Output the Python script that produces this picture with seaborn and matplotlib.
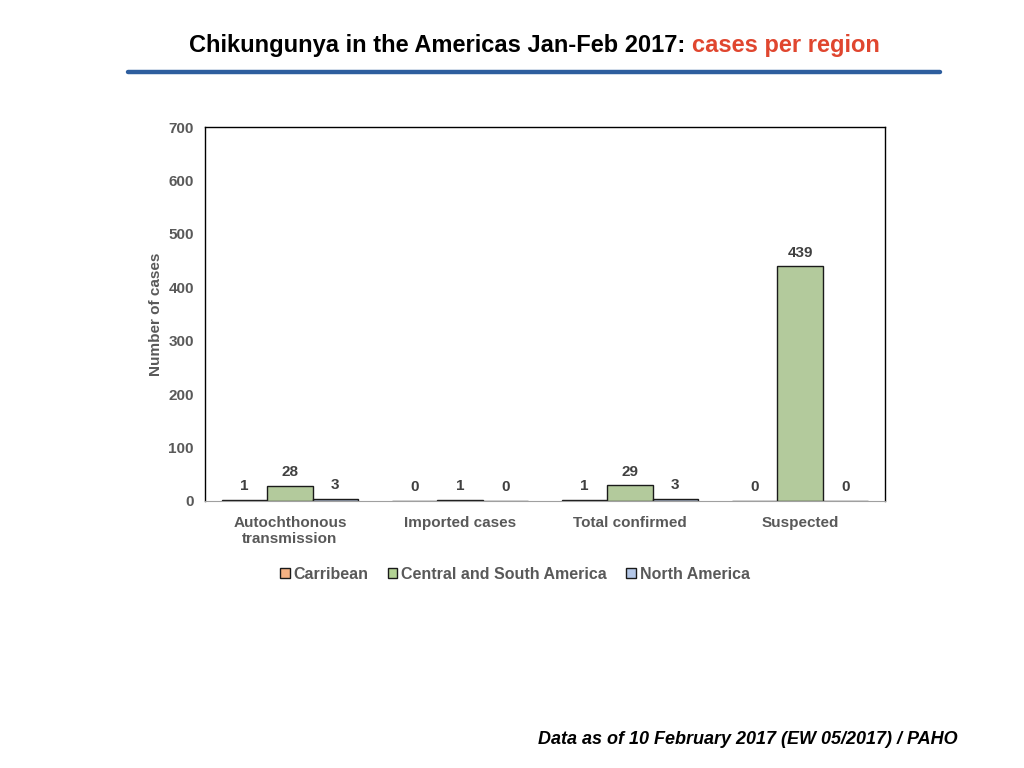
import pandas as pd
import seaborn as sns
import matplotlib.pyplot as plt
from matplotlib.lines import Line2D

# data
categories = ["Autochthonous\ntransmission", "Imported cases", "Total confirmed", "Suspected"]
regions = ["Carribean", "Central and South America", "North America"]
carribean = [1, 0, 1, 0]
central_south = [28, 1, 29, 439]
north_america = [3, 0, 3, 0]
colors = ["#F4B183", "#B3D294", "#B4C7E7"]

rows = []
for reg, vals in zip(regions, [carribean, central_south, north_america]):
    for cat, v in zip(categories, vals):
        rows.append({"category": cat, "region": reg, "cases": v})
df = pd.DataFrame(rows)

sns.set_style("white")
plt.rcParams["font.family"] = ["Liberation Sans", "DejaVu Sans"]
gray = "#595959"

fig = plt.figure(figsize=(10.24, 7.68), dpi=100)
ax = fig.add_axes([0.2002, 0.3477, 0.6641, 0.4869])

sns.barplot(data=df, x="category", y="cases", hue="region", order=categories,
            hue_order=regions, palette=colors, edgecolor="#1a1a1a", linewidth=1,
            width=0.8, ax=ax, legend=False)

for cont in ax.containers:
    ax.bar_label(cont, padding=5, fontsize=11, fontweight="bold", color="#404040")

ax.set_ylim(0, 700)
ax.set_yticks(range(0, 701, 100))
ax.set_xlim(-0.5, 3.5)
ax.set_xlabel("")
ax.set_ylabel("Number of cases", fontsize=11, fontweight="bold", color=gray, labelpad=4)
ax.tick_params(axis="y", length=0, colors=gray, labelsize=11, pad=8)
ax.tick_params(axis="x", length=0, colors=gray, labelsize=11, pad=11)
for lab in ax.get_xticklabels() + ax.get_yticklabels():
    lab.set_fontweight("bold")
for s in ["left", "top", "right"]:
    ax.spines[s].set_color("black")
    ax.spines[s].set_linewidth(1)
ax.spines["bottom"].set_color("#a0a0a0")

handles = [plt.Rectangle((0, 0), 1, 1, facecolor=c, edgecolor="#1a1a1a", linewidth=1)
           for c in colors]
leg = fig.legend(handles, regions, loc="center", bbox_to_anchor=(0.503, 0.252), ncol=3,
                 frameon=False, handlelength=0.6, handleheight=0.6, handletextpad=0.25,
                 columnspacing=1.2, prop={"size": 11.5, "weight": "bold"})
for t in leg.get_texts():
    t.set_color(gray)

# title with two colours, centred around x = 535 px
cx = 0.522
t1 = fig.text(cx, 0.941, "Chikungunya in the Americas Jan-Feb 2017: ", fontsize=17,
              fontweight="bold", color="black", ha="right", va="center")
fig.canvas.draw()
w1 = t1.get_window_extent().width / fig.bbox.width
t2 = fig.text(cx, 0.941, "cases per region", fontsize=17, fontweight="bold",
              color="#E0462F", ha="left", va="center")
fig.canvas.draw()
w2 = t2.get_window_extent().width / fig.bbox.width
shift = (w1 - w2) / 2
t1.set_x(cx + shift)
t2.set_x(cx + shift)

fig.add_artist(Line2D([0.125, 0.918], [0.906, 0.906], color="#2E5E9E", linewidth=3.2))

fig.text(0.935, 0.037, "Data as of 10 February 2017 (EW 05/2017) / PAHO", fontsize=13,
         fontweight="bold", fontstyle="italic", color="black", ha="right", va="center")

fig.savefig("out.png", dpi=100)
